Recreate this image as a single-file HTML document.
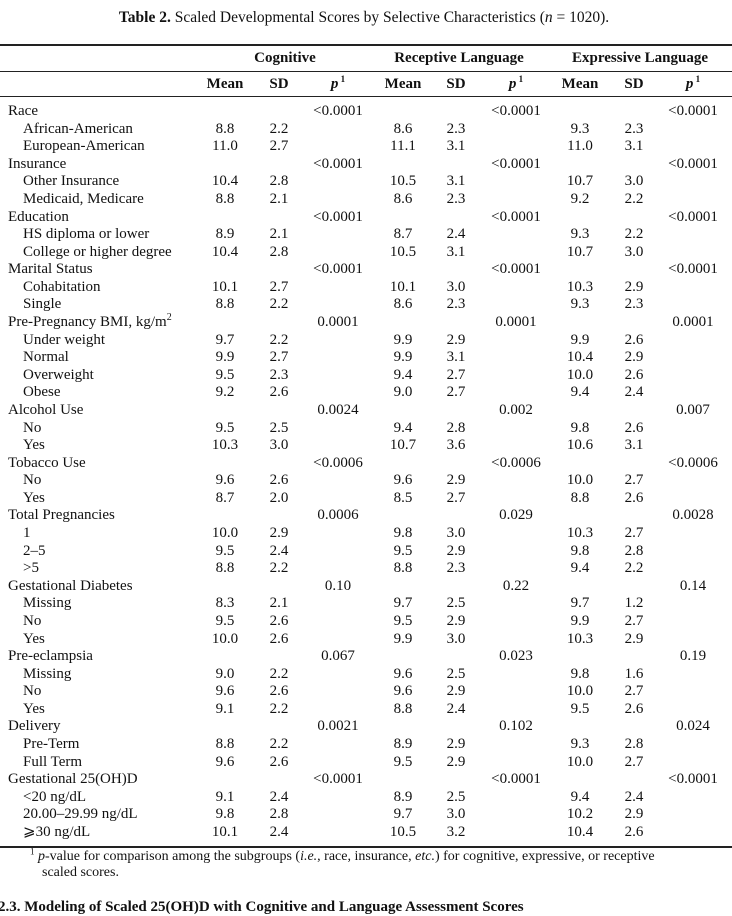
<!DOCTYPE html>
<html><head><meta charset="utf-8">
<style>
body{margin:0;background:#fff;width:732px;height:910px;overflow:hidden;position:relative;font-family:"Liberation Serif",serif;color:#111}
.t{position:absolute;line-height:18px;white-space:nowrap;font-size:15px}
.c{transform:translateX(-50%)}
.rule{position:absolute;left:0;width:732px;background:#222}
sup{line-height:0}
</style></head><body>
<div class="t c" style="left:364px;top:9px;font-size:15.5px"><b>Table 2.</b> Scaled Developmental Scores by Selective Characteristics (<i>n</i> = 1020).</div>
<div class="rule" style="top:44px;height:2px"></div>
<div class="rule" style="top:71px;height:1px;left:0"></div>
<div class="rule" style="top:96px;height:1px"></div>
<div class="rule" style="top:846px;height:2px"></div>
<div class="t c" style="left:285px;top:49px;font-weight:bold">Cognitive</div>
<div class="t c" style="left:459px;top:49px;font-weight:bold">Receptive Language</div>
<div class="t c" style="left:640px;top:49px;font-weight:bold">Expressive Language</div>
<div class="t" style="left:30px;top:848px;font-size:14px"><sup style="font-size:9px">1</sup> <i>p</i>-value for comparison among the subgroups (<i>i.e.</i>, race, insurance, <i>etc.</i>) for cognitive, expressive, or receptive</div>
<div class="t" style="left:42px;top:864px;font-size:14px">scaled scores.</div>
<div class="t" style="left:-2px;top:898px;font-weight:bold">2.3. Modeling of Scaled 25(OH)D with Cognitive and Language Assessment Scores</div>
<div id="tb"></div>
<script>
const colX=[225,279,338,403,456,516,580,634,693];
const headers=["Mean","SD","p","Mean","SD","p","Mean","SD","p"];
const rows=[
["Race",1,["","","<0.0001","","","<0.0001","","","<0.0001"]],
["African-American",0,["8.8","2.2","","8.6","2.3","","9.3","2.3",""]],
["European-American",0,["11.0","2.7","","11.1","3.1","","11.0","3.1",""]],
["Insurance",1,["","","<0.0001","","","<0.0001","","","<0.0001"]],
["Other Insurance",0,["10.4","2.8","","10.5","3.1","","10.7","3.0",""]],
["Medicaid, Medicare",0,["8.8","2.1","","8.6","2.3","","9.2","2.2",""]],
["Education",1,["","","<0.0001","","","<0.0001","","","<0.0001"]],
["HS diploma or lower",0,["8.9","2.1","","8.7","2.4","","9.3","2.2",""]],
["College or higher degree",0,["10.4","2.8","","10.5","3.1","","10.7","3.0",""]],
["Marital Status",1,["","","<0.0001","","","<0.0001","","","<0.0001"]],
["Cohabitation",0,["10.1","2.7","","10.1","3.0","","10.3","2.9",""]],
["Single",0,["8.8","2.2","","8.6","2.3","","9.3","2.3",""]],
["Pre-Pregnancy BMI, kg/m<sup style='font-size:10px'>2</sup>",1,["","","0.0001","","","0.0001","","","0.0001"]],
["Under weight",0,["9.7","2.2","","9.9","2.9","","9.9","2.6",""]],
["Normal",0,["9.9","2.7","","9.9","3.1","","10.4","2.9",""]],
["Overweight",0,["9.5","2.3","","9.4","2.7","","10.0","2.6",""]],
["Obese",0,["9.2","2.6","","9.0","2.7","","9.4","2.4",""]],
["Alcohol Use",1,["","","0.0024","","","0.002","","","0.007"]],
["No",0,["9.5","2.5","","9.4","2.8","","9.8","2.6",""]],
["Yes",0,["10.3","3.0","","10.7","3.6","","10.6","3.1",""]],
["Tobacco Use",1,["","","<0.0006","","","<0.0006","","","<0.0006"]],
["No",0,["9.6","2.6","","9.6","2.9","","10.0","2.7",""]],
["Yes",0,["8.7","2.0","","8.5","2.7","","8.8","2.6",""]],
["Total Pregnancies",1,["","","0.0006","","","0.029","","","0.0028"]],
["1",0,["10.0","2.9","","9.8","3.0","","10.3","2.7",""]],
["2–5",0,["9.5","2.4","","9.5","2.9","","9.8","2.8",""]],
["&gt;5",0,["8.8","2.2","","8.8","2.3","","9.4","2.2",""]],
["Gestational Diabetes",1,["","","0.10","","","0.22","","","0.14"]],
["Missing",0,["8.3","2.1","","9.7","2.5","","9.7","1.2",""]],
["No",0,["9.5","2.6","","9.5","2.9","","9.9","2.7",""]],
["Yes",0,["10.0","2.6","","9.9","3.0","","10.3","2.9",""]],
["Pre-eclampsia",1,["","","0.067","","","0.023","","","0.19"]],
["Missing",0,["9.0","2.2","","9.6","2.5","","9.8","1.6",""]],
["No",0,["9.6","2.6","","9.6","2.9","","10.0","2.7",""]],
["Yes",0,["9.1","2.2","","8.8","2.4","","9.5","2.6",""]],
["Delivery",1,["","","0.0021","","","0.102","","","0.024"]],
["Pre-Term",0,["8.8","2.2","","8.9","2.9","","9.3","2.8",""]],
["Full Term",0,["9.6","2.6","","9.5","2.9","","10.0","2.7",""]],
["Gestational 25(OH)D",1,["","","<0.0001","","","<0.0001","","","<0.0001"]],
["&lt;20 ng/dL",0,["9.1","2.4","","8.9","2.5","","9.4","2.4",""]],
["20.00–29.99 ng/dL",0,["9.8","2.8","","9.7","3.0","","10.2","2.9",""]],
["⩾30 ng/dL",0,["10.1","2.4","","10.5","3.2","","10.4","2.6",""]]
];
const tb=document.getElementById('tb');
headers.forEach((h,i)=>{
  const d=document.createElement('div');
  d.className='t c';
  d.style.left=colX[i]+'px';d.style.top='75px';d.style.fontWeight='bold';
  d.innerHTML=h==='p'?"<i>p</i><sup style='font-size:9px'> 1</sup>":h;
  
  
  tb.appendChild(d);
});
rows.forEach((r,ri)=>{
  const y=111+ri*17.585;
  const l=document.createElement('div');
  l.className='t';
  l.style.left=(r[1]?8:23)+'px';l.style.top=(y-9)+'px';
  l.innerHTML=r[0];
  
  
  tb.appendChild(l);
  r[2].forEach((v,ci)=>{
    if(!v)return;
    const d=document.createElement('div');
    d.className='t c';
    d.style.left=colX[ci]+'px';d.style.top=(y-9)+'px';
    d.textContent=v;
    
    
    tb.appendChild(d);
  });
});
</script>
</body></html>
